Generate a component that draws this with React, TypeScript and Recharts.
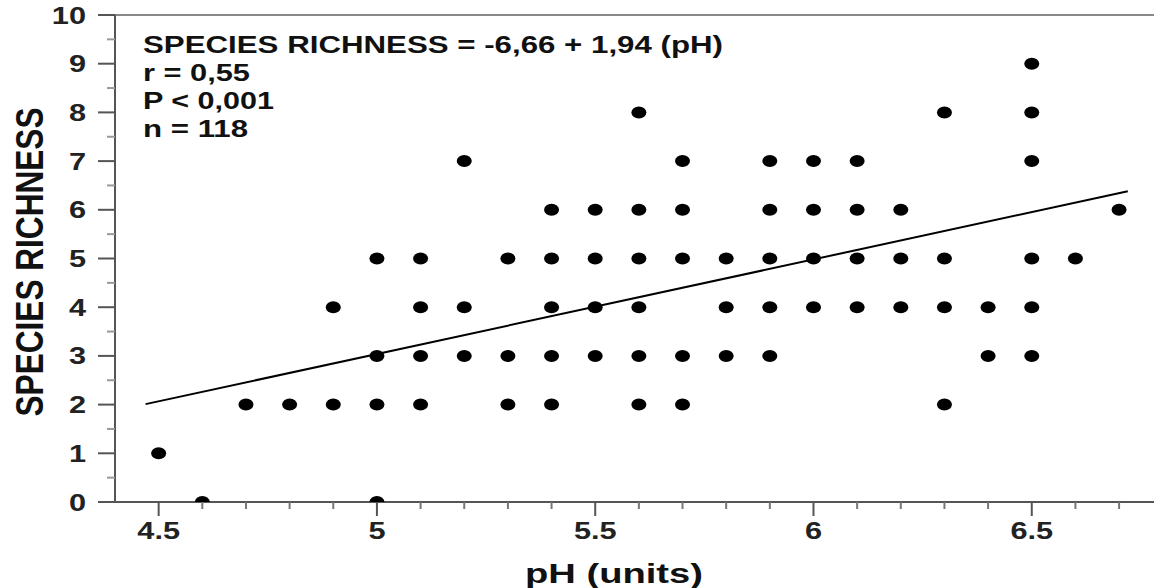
import React from 'react'
import { ScatterChart, Scatter, XAxis, YAxis, ReferenceLine } from 'recharts'

// pH columns and the richness values plotted in each one
const PH_LEVELS = [4.5, 4.6, 4.7, 4.8, 4.9, 5.0, 5.1, 5.2, 5.3, 5.4, 5.5, 5.6, 5.7, 5.8, 5.9, 6.0, 6.1, 6.2, 6.3, 6.4, 6.5, 6.6, 6.7]
const RICHNESS_BY_PH = [
  [1], [0], [2], [2], [2, 4], [0, 2, 3, 5], [2, 3, 4, 5], [3, 4, 7], [2, 3, 5],
  [2, 3, 4, 5, 6], [3, 4, 5, 6], [2, 3, 4, 5, 6, 8], [2, 3, 5, 6, 7], [3, 4, 5],
  [3, 4, 5, 6, 7], [4, 5, 6, 7], [4, 5, 6, 7], [4, 5, 6], [2, 4, 5, 8], [3, 4],
  [3, 4, 5, 7, 8, 9], [5], [6],
]

// regression line ends
const FIT_PH = [4.47, 6.72]
const FIT_RICHNESS = [2.01, 6.38]

const X_TICKS = [4.5, 4.6, 4.7, 4.8, 4.9, 5, 5.1, 5.2, 5.3, 5.4, 5.5, 5.6, 5.7, 5.8, 5.9, 6, 6.1, 6.2, 6.3, 6.4, 6.5, 6.6, 6.7]
const X_LABELS = [4.5, 5, 5.5, 6, 6.5]
const Y_TICKS = [0, 0.5, 1, 1.5, 2, 2.5, 3, 3.5, 4, 4.5, 5, 5.5, 6, 6.5, 7, 7.5, 8, 8.5, 9, 9.5, 10]
const Y_LABELS = [0, 1, 2, 3, 4, 5, 6, 7, 8, 9, 10]

const STATS = ['SPECIES RICHNESS = -6,66 + 1,94 (pH)', 'r = 0,55', 'P < 0,001', 'n = 118']
const STATS_WIDTH = [580, 107, 131, 105]

const points = PH_LEVELS.flatMap((x, i) => RICHNESS_BY_PH[i].map(y => ({ x, y })))
const fit = FIT_PH.map((x, i) => ({ x, y: FIT_RICHNESS[i] }))

const FONT = '"Liberation Sans", Arial, sans-serif'
const AXIS = '#555'
const STRETCH = 1.28 // the original is a bit wider than tall

const XTick = (p: any) => {
  const v = p.payload.value
  const major = X_LABELS.includes(v)
  return (
    <g>
      <line x1={p.x} x2={p.x} y1={p.y} y2={p.y + (major ? 14 : 7)} stroke={major ? AXIS : '#777'} strokeWidth={2} />
      {major && (
        <text
          transform={`translate(${p.x},${p.y + 37}) scale(${STRETCH},1)`} textAnchor="middle"
          fontFamily={FONT} fontWeight="bold" fontSize={24} fill="#222"
        >
          {String(v)}
        </text>
      )}
    </g>
  )
}

const YTick = (p: any) => {
  const v = p.payload.value
  const major = Y_LABELS.includes(v)
  return (
    <g>
      <line x1={p.x - (major ? 17 : 8)} x2={p.x} y1={p.y} y2={p.y} stroke={major ? AXIS : '#999'} strokeWidth={2} />
      {major && (
        <text
          transform={`translate(${p.x - 29},${p.y + 8.5}) scale(${STRETCH},1)`} textAnchor="end"
          fontFamily={FONT} fontWeight="bold" fontSize={24} fill="#222"
        >
          {String(v)}
        </text>
      )}
    </g>
  )
}

const Dot = (p: any) => <ellipse cx={p.cx} cy={p.cy} rx={7.5} ry={6} fill="#000" />

export default function App() {
  return (
    <div style={{ position: 'fixed', left: 0, top: 0, width: 1154, height: 588, background: '#fff' }}>
      <ScatterChart width={1154} height={588} margin={{ top: 15, right: 0, bottom: 26, left: 0 }}>
        <XAxis
          dataKey="x" type="number" domain={[4.4, 6.78]} ticks={X_TICKS} interval={0}
          allowDataOverflow height={60} tickSize={0} tickMargin={0} tickLine={false}
          axisLine={{ stroke: AXIS, strokeWidth: 2 }} tick={XTick}
        />
        <YAxis
          dataKey="y" type="number" domain={[0, 10]} ticks={Y_TICKS} interval={0}
          allowDataOverflow width={115} tickSize={0} tickMargin={0} tickLine={false}
          axisLine={{ stroke: AXIS, strokeWidth: 2 }} tick={YTick}
        />
        <ReferenceLine y={10} stroke="#888" strokeWidth={2} />
        <Scatter data={points} shape={Dot} isAnimationActive={false} />
        <Scatter
          data={fit} line={{ stroke: '#000', strokeWidth: 2 }} lineType="joint"
          shape={() => <g />} isAnimationActive={false}
        />
      </ScatterChart>
      <svg width={1154} height={588} style={{ position: 'absolute', left: 0, top: 0, pointerEvents: 'none' }}>
        {STATS.map((s, i) => (
          <text
            key={s} x={143} y={53 + i * 28} fontFamily={FONT} fontWeight="bold" fontSize={23} fill="#111"
            textLength={STATS_WIDTH[i]} lengthAdjust="spacingAndGlyphs"
          >
            {s}
          </text>
        ))}
        <text
          transform={`translate(29,262) scale(${STRETCH},1) rotate(-90)`} x={0} y={11} textAnchor="middle"
          fontFamily={FONT} fontWeight="bold" fontSize={31} fill="#111"
          textLength={309} lengthAdjust="spacingAndGlyphs"
        >
          SPECIES RICHNESS
        </text>
        <text
          x={614} y={583} textAnchor="middle" fontFamily={FONT} fontWeight="bold" fontSize={28} fill="#111"
          textLength={178} lengthAdjust="spacingAndGlyphs"
        >
          pH (units)
        </text>
      </svg>
    </div>
  )
}
